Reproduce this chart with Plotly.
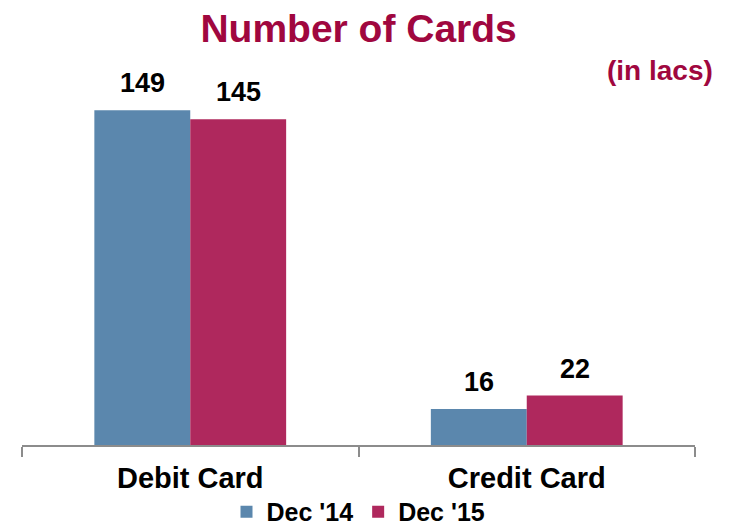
import plotly.graph_objects as go

categories = ["Debit Card", "Credit Card"]
series_names = ["Dec '14", "Dec '15"]
dec14 = [149, 16]
dec15 = [145, 22]

colors = ["#5B87AD", "#AF285D"]
font_family = "Liberation Sans, Arial, sans-serif"
title_color = "#A0073F"

fig = go.Figure()
for name, vals, col in zip(series_names, [dec14, dec15], colors):
    fig.add_trace(go.Bar(
        x=categories, y=vals, name=f"<b>{name}</b>", marker=dict(color=col, line=dict(width=0)),
    ))

annotations = []
for vals, shift in zip([dec14, dec15], [-48, 48]):
    for cat, v in zip(categories, vals):
        annotations.append(dict(x=cat, y=v, xref="x", yref="y", text=f"<b>{v}</b>",
                                showarrow=False, xanchor="center", yanchor="bottom",
                                xshift=shift, yshift=10,
                                font=dict(size=27, family=font_family, color="black")))
annotations.append(dict(text="<b>(in lacs)</b>", xref="paper", yref="paper", x=1.03, y=0.91,
                        xanchor="right", yanchor="middle", showarrow=False,
                        font=dict(size=28, color=title_color, family=font_family)))

fig.update_layout(
    width=735, height=531,
    margin=dict(l=14, r=48, t=26, b=94, autoexpand=False),
    paper_bgcolor="white", plot_bgcolor="white",
    barmode="group", bargap=0.43, bargroupgap=0,
    font=dict(family=font_family, color="black"),
    title=dict(text="<b>Number of Cards</b>", x=0.477, xanchor="center", y=0.962, yanchor="middle",
               font=dict(size=39, color=title_color, family=font_family)),
    showlegend=True,
    legend=dict(orientation="h", x=0.5, xanchor="center", y=-0.163, yanchor="middle",
                bgcolor="rgba(0,0,0,0)",
                font=dict(size=25, family=font_family, color="black"),
                itemwidth=30, tracegroupgap=0, traceorder="normal"),
    annotations=annotations,
)
fig.update_xaxes(showline=True, linecolor="#8C8C8C", linewidth=1.5, ticks="outside", tickson="boundaries",
                 ticklen=10, tickcolor="#8C8C8C", tickwidth=1.5, ticklabelstandoff=6,
                 tickfont=dict(size=29, family=font_family, color="black"),
                 tickprefix="<b>", ticksuffix="</b>", showgrid=False, automargin=False)
fig.update_yaxes(range=[0, 183], visible=False, showgrid=False, automargin=False)

fig.write_html("out.html")
